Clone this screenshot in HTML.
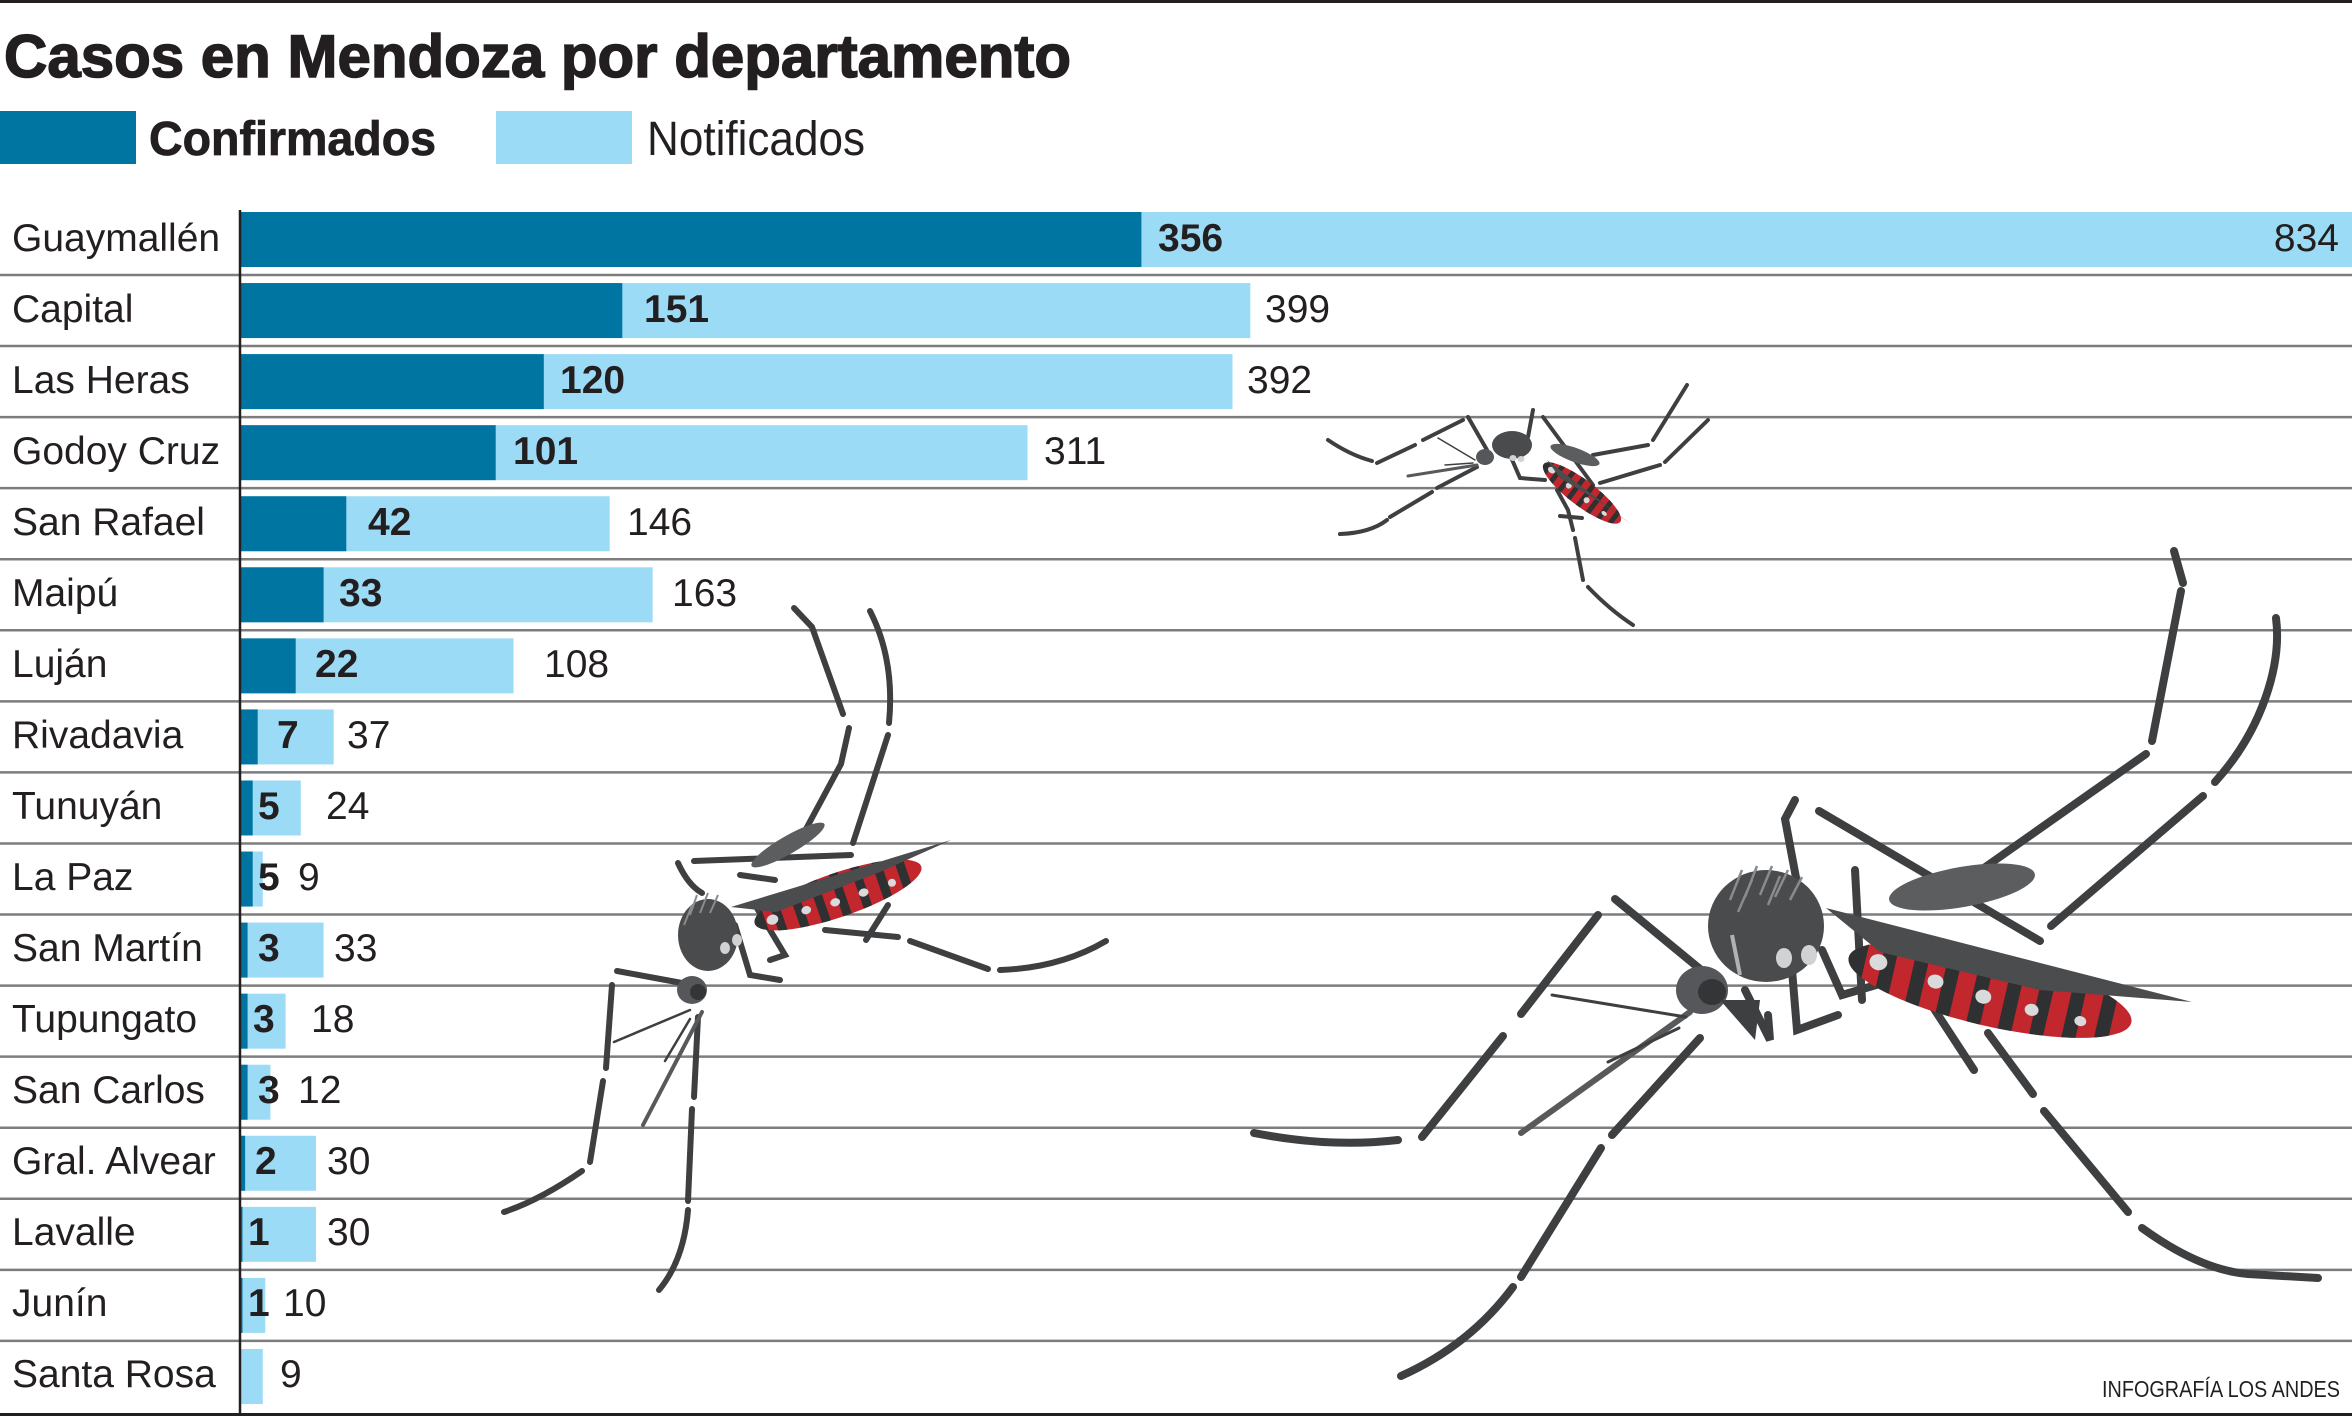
<!DOCTYPE html>
<html><head><meta charset="utf-8"><style>
html,body{margin:0;padding:0;background:#fff;}
svg{display:block;}
text{font-family:"Liberation Sans",sans-serif;fill:#231f20;}
</style></head><body>
<svg width="2352" height="1416" viewBox="0 0 2352 1416" xmlns="http://www.w3.org/2000/svg">
<rect width="2352" height="1416" fill="#fff"/>
<line x1="0" y1="1.5" x2="2352" y2="1.5" stroke="#231f20" stroke-width="3"/>
<text x="4" y="77" font-size="60" font-weight="bold" textLength="1067" lengthAdjust="spacingAndGlyphs" stroke="#231f20" stroke-width="1.5">Casos en Mendoza por departamento</text>
<rect x="0" y="111" width="136" height="53" fill="#0075a2"/>
<text x="149" y="155" font-size="48" font-weight="bold" textLength="287" lengthAdjust="spacingAndGlyphs" stroke="#231f20" stroke-width="0.8">Confirmados</text>
<rect x="496" y="111" width="136" height="53" fill="#9cdbf6"/>
<text x="647" y="155" font-size="48" textLength="218" lengthAdjust="spacingAndGlyphs">Notificados</text>

<g fill="#9cdbf6">
<rect x="241" y="212" width="2111" height="55"/>
<rect x="241" y="283.06" width="1009.3" height="55"/>
<rect x="241" y="354.12" width="991.5" height="55"/>
<rect x="241" y="425.18" width="786.5" height="55"/>
<rect x="241" y="496.24" width="368.7" height="55"/>
<rect x="241" y="567.3" width="411.7" height="55"/>
<rect x="241" y="638.36" width="272.5" height="55"/>
<rect x="241" y="709.42" width="92.7" height="55"/>
<rect x="241" y="780.48" width="59.8" height="55"/>
<rect x="241" y="851.54" width="21.8" height="55"/>
<rect x="241" y="922.6" width="82.6" height="55"/>
<rect x="241" y="993.66" width="44.6" height="55"/>
<rect x="241" y="1064.72" width="29.4" height="55"/>
<rect x="241" y="1135.78" width="75" height="55"/>
<rect x="241" y="1206.84" width="75" height="55"/>
<rect x="241" y="1277.9" width="24.3" height="55"/>
<rect x="241" y="1348.96" width="21.8" height="55"/>
</g>
<g fill="#0075a2">
<rect x="241" y="212" width="900.4" height="55"/>
<rect x="241" y="283.06" width="381.3" height="55"/>
<rect x="241" y="354.12" width="302.8" height="55"/>
<rect x="241" y="425.18" width="254.7" height="55"/>
<rect x="241" y="496.24" width="105.3" height="55"/>
<rect x="241" y="567.3" width="82.6" height="55"/>
<rect x="241" y="638.36" width="54.7" height="55"/>
<rect x="241" y="709.42" width="16.7" height="55"/>
<rect x="241" y="780.48" width="11.7" height="55"/>
<rect x="241" y="851.54" width="11.7" height="55"/>
<rect x="241" y="922.6" width="6.6" height="55"/>
<rect x="241" y="993.66" width="6.6" height="55"/>
<rect x="241" y="1064.72" width="6.6" height="55"/>
<rect x="241" y="1135.78" width="4.1" height="55"/>
<rect x="241" y="1206.84" width="1.5" height="55"/>
<rect x="241" y="1277.9" width="1.5" height="55"/>
</g>

<g stroke="#7d7d7d" stroke-width="2.5">
<line x1="0" y1="275" x2="2352" y2="275"/>
<line x1="0" y1="346.06" x2="2352" y2="346.06"/>
<line x1="0" y1="417.12" x2="2352" y2="417.12"/>
<line x1="0" y1="488.18" x2="2352" y2="488.18"/>
<line x1="0" y1="559.24" x2="2352" y2="559.24"/>
<line x1="0" y1="630.3" x2="2352" y2="630.3"/>
<line x1="0" y1="701.36" x2="2352" y2="701.36"/>
<line x1="0" y1="772.42" x2="2352" y2="772.42"/>
<line x1="0" y1="843.48" x2="2352" y2="843.48"/>
<line x1="0" y1="914.54" x2="2352" y2="914.54"/>
<line x1="0" y1="985.6" x2="2352" y2="985.6"/>
<line x1="0" y1="1056.66" x2="2352" y2="1056.66"/>
<line x1="0" y1="1127.72" x2="2352" y2="1127.72"/>
<line x1="0" y1="1198.78" x2="2352" y2="1198.78"/>
<line x1="0" y1="1269.84" x2="2352" y2="1269.84"/>
<line x1="0" y1="1340.9" x2="2352" y2="1340.9"/>
</g>
<line x1="0" y1="1414.5" x2="2352" y2="1414.5" stroke="#231f20" stroke-width="3"/>
<line x1="240" y1="210" x2="240" y2="1416" stroke="#231f20" stroke-width="2.5"/>

<g font-size="39">
<text x="12" y="251">Guaymallén</text>
<text x="12" y="322">Capital</text>
<text x="12" y="393">Las Heras</text>
<text x="12" y="464">Godoy Cruz</text>
<text x="12" y="535">San Rafael</text>
<text x="12" y="606">Maipú</text>
<text x="12" y="677">Luján</text>
<text x="12" y="748">Rivadavia</text>
<text x="12" y="819">Tunuyán</text>
<text x="12" y="890">La Paz</text>
<text x="12" y="961">San Martín</text>
<text x="12" y="1032">Tupungato</text>
<text x="12" y="1103">San Carlos</text>
<text x="12" y="1174">Gral. Alvear</text>
<text x="12" y="1245">Lavalle</text>
<text x="12" y="1316">Junín</text>
<text x="12" y="1387">Santa Rosa</text>
</g>
<g font-size="39" font-weight="bold">
<text x="1158" y="251">356</text>
<text x="644" y="322">151</text>
<text x="560" y="393">120</text>
<text x="513" y="464">101</text>
<text x="368" y="535">42</text>
<text x="339" y="606">33</text>
<text x="315" y="677">22</text>
<text x="277" y="748">7</text>
<text x="258" y="819">5</text>
<text x="258" y="890">5</text>
<text x="258" y="961">3</text>
<text x="253" y="1032">3</text>
<text x="258" y="1103">3</text>
<text x="255" y="1174">2</text>
<text x="248" y="1245">1</text>
<text x="248" y="1316">1</text>
</g>
<g font-size="39" fill="#231f20">
<text x="2339" y="251" text-anchor="end">834</text>
<text x="1265" y="322">399</text>
<text x="1247" y="393">392</text>
<text x="1044" y="464">311</text>
<text x="627" y="535">146</text>
<text x="672" y="606">163</text>
<text x="544" y="677">108</text>
<text x="347" y="748">37</text>
<text x="326" y="819">24</text>
<text x="298" y="890">9</text>
<text x="334" y="961">33</text>
<text x="311" y="1032">18</text>
<text x="298" y="1103">12</text>
<text x="327" y="1174">30</text>
<text x="327" y="1245">30</text>
<text x="283" y="1316">10</text>
<text x="280" y="1387">9</text>
</g>
<text x="2102" y="1397" font-size="23" textLength="238" lengthAdjust="spacingAndGlyphs">INFOGRAFÍA LOS ANDES</text>

<defs>
<clipPath id="cb" clipPathUnits="userSpaceOnUse"><ellipse cx="0" cy="0" rx="145" ry="36"/></clipPath>
<clipPath id="cm" clipPathUnits="userSpaceOnUse"><ellipse cx="0" cy="0" rx="88" ry="22"/></clipPath>
<clipPath id="cs" clipPathUnits="userSpaceOnUse"><ellipse cx="0" cy="0" rx="48" ry="13"/></clipPath>
</defs>

<!-- BIG MOSQUITO -->
<g fill="none" stroke="#3d3f41" stroke-width="8" stroke-linecap="round">
<path d="M2174,551 L2183,583"/>
<path d="M2181,591 L2152,741"/>
<path d="M2146,754 L1974,875"/>
<path d="M1819,811 L2040,941"/>
<path d="M2276,618 C2282,665 2262,730 2215,782"/>
<path d="M2203,796 L2051,926"/>
<path d="M1797,883 L1785,819 L1795,800"/>
<path d="M1700,969 L1615,899"/>
<path d="M1598,915 L1521,1014"/>
<path d="M1503,1036 L1422,1137"/>
<path d="M1398,1140 Q1330,1148 1254,1133"/>
<path d="M1700,1038 L1612,1135"/>
<path d="M1601,1148 L1521,1277"/>
<path d="M1513,1287 Q1470,1345 1401,1376"/>
<path d="M1925,995 L1974,1070"/>
<path d="M1988,1033 L2033,1094"/>
<path d="M2044,1111 L2128,1212"/>
<path d="M2142,1228 Q2200,1270 2248,1274 L2318,1278"/>
<path d="M1745,990 L1770,1040 L1768,1015"/>
<path d="M1792,970 L1797,1030 L1838,1015"/>
<path d="M1822,950 L1842,995 L1900,978"/>
<path d="M1855,870 L1862,1000"/>
</g>
<g fill="none" stroke="#58595b" stroke-linecap="round">
<path d="M1690,1012 L1521,1133" stroke-width="6"/>
<path d="M1552,995 L1686,1017" stroke-width="3" stroke="#3d3f41"/>
<path d="M1608,1062 L1679,1028" stroke-width="3" stroke="#3d3f41"/>
</g>
<g transform="translate(1990,990) rotate(13)">
<g clip-path="url(#cb)">
<rect x="-150" y="-40" width="300" height="80" fill="#c1272d"/>
<g fill="#2e3032">
<rect x="-150" y="-40" width="22" height="80"/>
<rect x="-112" y="-40" width="14" height="80"/>
<rect x="-80" y="-40" width="14" height="80"/>
<rect x="-48" y="-40" width="14" height="80"/>
<rect x="-16" y="-40" width="14" height="80"/>
<rect x="16" y="-40" width="14" height="80"/>
<rect x="48" y="-40" width="14" height="80"/>
<rect x="80" y="-40" width="14" height="80"/>
<rect x="112" y="-40" width="14" height="80"/>
</g>
<g fill="#d9dadb">
<ellipse cx="-115" cy="-2" rx="9" ry="8"/>
<ellipse cx="-55" cy="4" rx="8" ry="7"/>
<ellipse cx="-5" cy="8" rx="8" ry="7"/>
<ellipse cx="45" cy="10" rx="7" ry="6"/>
<ellipse cx="95" cy="10" rx="6" ry="5"/>
</g>
</g>
</g>
<polygon points="1826,908 2192,1002 2040,990 1880,952" fill="#4a4c4e"/>
<ellipse cx="1962" cy="887" rx="74" ry="20" transform="rotate(-10 1962 887)" fill="#5b5d5f"/>
<ellipse cx="1766" cy="926" rx="58" ry="56" fill="#4a4b4d"/>
<g stroke="#8a8b8d" stroke-width="2.5" fill="none">
<path d="M1730,900 L1742,870 M1745,897 L1757,866 M1760,895 L1772,866 M1775,897 L1788,870 M1790,900 L1802,877 M1738,912 L1752,880 M1768,905 L1780,876"/>
<path d="M1732,935 L1740,975" stroke="#b0b2b3" stroke-width="4"/>
</g>
<ellipse cx="1784" cy="958" rx="8" ry="10" fill="#d0d2d3"/>
<ellipse cx="1809" cy="955" rx="8" ry="10" fill="#d0d2d3"/>
<ellipse cx="1702" cy="990" rx="26" ry="24" fill="#55575a"/>
<ellipse cx="1712" cy="992" rx="14" ry="13" fill="#333537"/>
<path d="M1720,1000 L1760,1000 L1755,1040 Z" fill="#3d3f41"/>

<!-- MIDDLE MOSQUITO -->
<g fill="none" stroke="#3d3f41" stroke-width="6" stroke-linecap="round">
<path d="M794,608 L812,627 L843,714"/>
<path d="M849,728 L841,764 L806,829"/>
<path d="M694,861 L851,855"/>
<path d="M870,611 Q895,660 889,723"/>
<path d="M888,735 L853,843"/>
<path d="M678,863 Q688,885 702,893"/>
<path d="M617,971 L682,983"/>
<path d="M612,985 L606,1068"/>
<path d="M603,1081 L590,1162"/>
<path d="M582,1171 Q540,1200 504,1212"/>
<path d="M698,1017 L694,1097"/>
<path d="M692,1109 L688,1201"/>
<path d="M688,1210 Q684,1260 659,1290"/>
<path d="M825,930 L898,937"/>
<path d="M910,941 L988,969"/>
<path d="M1000,970 Q1060,968 1106,941"/>
<path d="M888,905 L866,940"/>
<path d="M735,925 L750,975 L780,980"/>
<path d="M755,905 L785,955 L770,960"/>
<path d="M740,875 L775,880"/>
</g>
<g fill="none" stroke-linecap="round">
<path d="M702,1012 L643,1125" stroke="#58595b" stroke-width="4"/>
<path d="M614,1042 L690,1010" stroke="#3d3f41" stroke-width="2.5"/>
<path d="M665,1061 L690,1019" stroke="#3d3f41" stroke-width="2.5"/>
</g>
<g transform="translate(838,895) rotate(-19)">
<g clip-path="url(#cm)">
<rect x="-95" y="-25" width="190" height="50" fill="#c1272d"/>
<g fill="#2e3032">
<rect x="-95" y="-25" width="18" height="50"/>
<rect x="-68" y="-25" width="9" height="50"/>
<rect x="-46" y="-25" width="9" height="50"/>
<rect x="-24" y="-25" width="9" height="50"/>
<rect x="-2" y="-25" width="9" height="50"/>
<rect x="20" y="-25" width="9" height="50"/>
<rect x="42" y="-25" width="9" height="50"/>
<rect x="64" y="-25" width="9" height="50"/>
</g>
<g fill="#d9dadb">
<ellipse cx="-70" cy="2" rx="6" ry="5"/>
<ellipse cx="-35" cy="4" rx="5" ry="4"/>
<ellipse cx="-5" cy="6" rx="5" ry="4"/>
<ellipse cx="25" cy="6" rx="5" ry="4"/>
<ellipse cx="55" cy="6" rx="4" ry="4"/>
</g>
</g>
</g>
<polygon points="731,907 951,840 880,872 776,912" fill="#4a4c4e"/>
<ellipse cx="788" cy="845" rx="42" ry="9" transform="rotate(-30 788 845)" fill="#5b5d5f"/>
<ellipse cx="708" cy="935" rx="30" ry="36" fill="#4a4b4d"/>
<g stroke="#8a8b8d" stroke-width="2" fill="none">
<path d="M690,915 L697,895 M700,913 L708,893 M710,913 L718,895 M684,925 L692,905"/>
</g>
<ellipse cx="725" cy="948" rx="5" ry="6" fill="#d0d2d3"/>
<ellipse cx="737" cy="940" rx="5" ry="6" fill="#d0d2d3"/>
<ellipse cx="692" cy="990" rx="15" ry="14" fill="#55575a"/>
<ellipse cx="698" cy="992" rx="8" ry="8" fill="#333537"/>

<!-- SMALL MOSQUITO -->
<g fill="none" stroke="#3d3f41" stroke-width="4" stroke-linecap="round">
<path d="M1328,440 Q1350,455 1372,461"/>
<path d="M1377,463 L1415,445"/>
<path d="M1423,440 L1463,420"/>
<path d="M1468,417 L1487,450"/>
<path d="M1340,534 Q1370,533 1387,520"/>
<path d="M1390,517 L1432,492"/>
<path d="M1437,488 L1477,467"/>
<path d="M1533,410 L1528,437"/>
<path d="M1543,417 L1593,485"/>
<path d="M1593,455 L1648,445"/>
<path d="M1653,440 L1687,385"/>
<path d="M1600,483 L1660,465"/>
<path d="M1665,462 L1708,420"/>
<path d="M1557,490 L1568,510 L1573,530"/>
<path d="M1575,538 L1583,580"/>
<path d="M1588,587 Q1610,610 1633,625"/>
<path d="M1510,455 L1520,478 L1545,480"/>
<path d="M1560,516 L1582,518"/>
</g>
<g fill="none" stroke-linecap="round">
<path d="M1408,476 L1477,465" stroke="#58595b" stroke-width="3"/>
<path d="M1438,438 L1475,460" stroke="#3d3f41" stroke-width="1.5"/>
<path d="M1445,465 L1473,463" stroke="#3d3f41" stroke-width="1.5"/>
</g>
<g transform="translate(1582,493) rotate(37)">
<g clip-path="url(#cs)">
<rect x="-50" y="-15" width="100" height="30" fill="#c1272d"/>
<g fill="#2e3032">
<rect x="-50" y="-15" width="10" height="30"/>
<rect x="-34" y="-15" width="5" height="30"/>
<rect x="-22" y="-15" width="5" height="30"/>
<rect x="-10" y="-15" width="5" height="30"/>
<rect x="2" y="-15" width="5" height="30"/>
<rect x="14" y="-15" width="5" height="30"/>
<rect x="26" y="-15" width="5" height="30"/>
<rect x="38" y="-15" width="5" height="30"/>
</g>
<g fill="#d9dadb">
<ellipse cx="-38" cy="0" rx="4" ry="3"/>
<ellipse cx="-15" cy="2" rx="3" ry="3"/>
<ellipse cx="8" cy="3" rx="3" ry="3"/>
<ellipse cx="30" cy="3" rx="3" ry="2"/>
</g>
</g>
</g>
<polygon points="1547,460 1632,525 1605,505 1560,478" fill="#4a4c4e"/>
<ellipse cx="1575" cy="455" rx="26" ry="7" transform="rotate(20 1575 455)" fill="#5b5d5f"/>
<ellipse cx="1512" cy="445" rx="20" ry="14" fill="#4a4b4d"/>
<ellipse cx="1513" cy="458" rx="3.5" ry="3" fill="#d0d2d3"/>
<ellipse cx="1521" cy="459" rx="3.5" ry="3" fill="#d0d2d3"/>
<ellipse cx="1485" cy="457" rx="9" ry="8" fill="#55575a"/>
</svg>
</body></html>
